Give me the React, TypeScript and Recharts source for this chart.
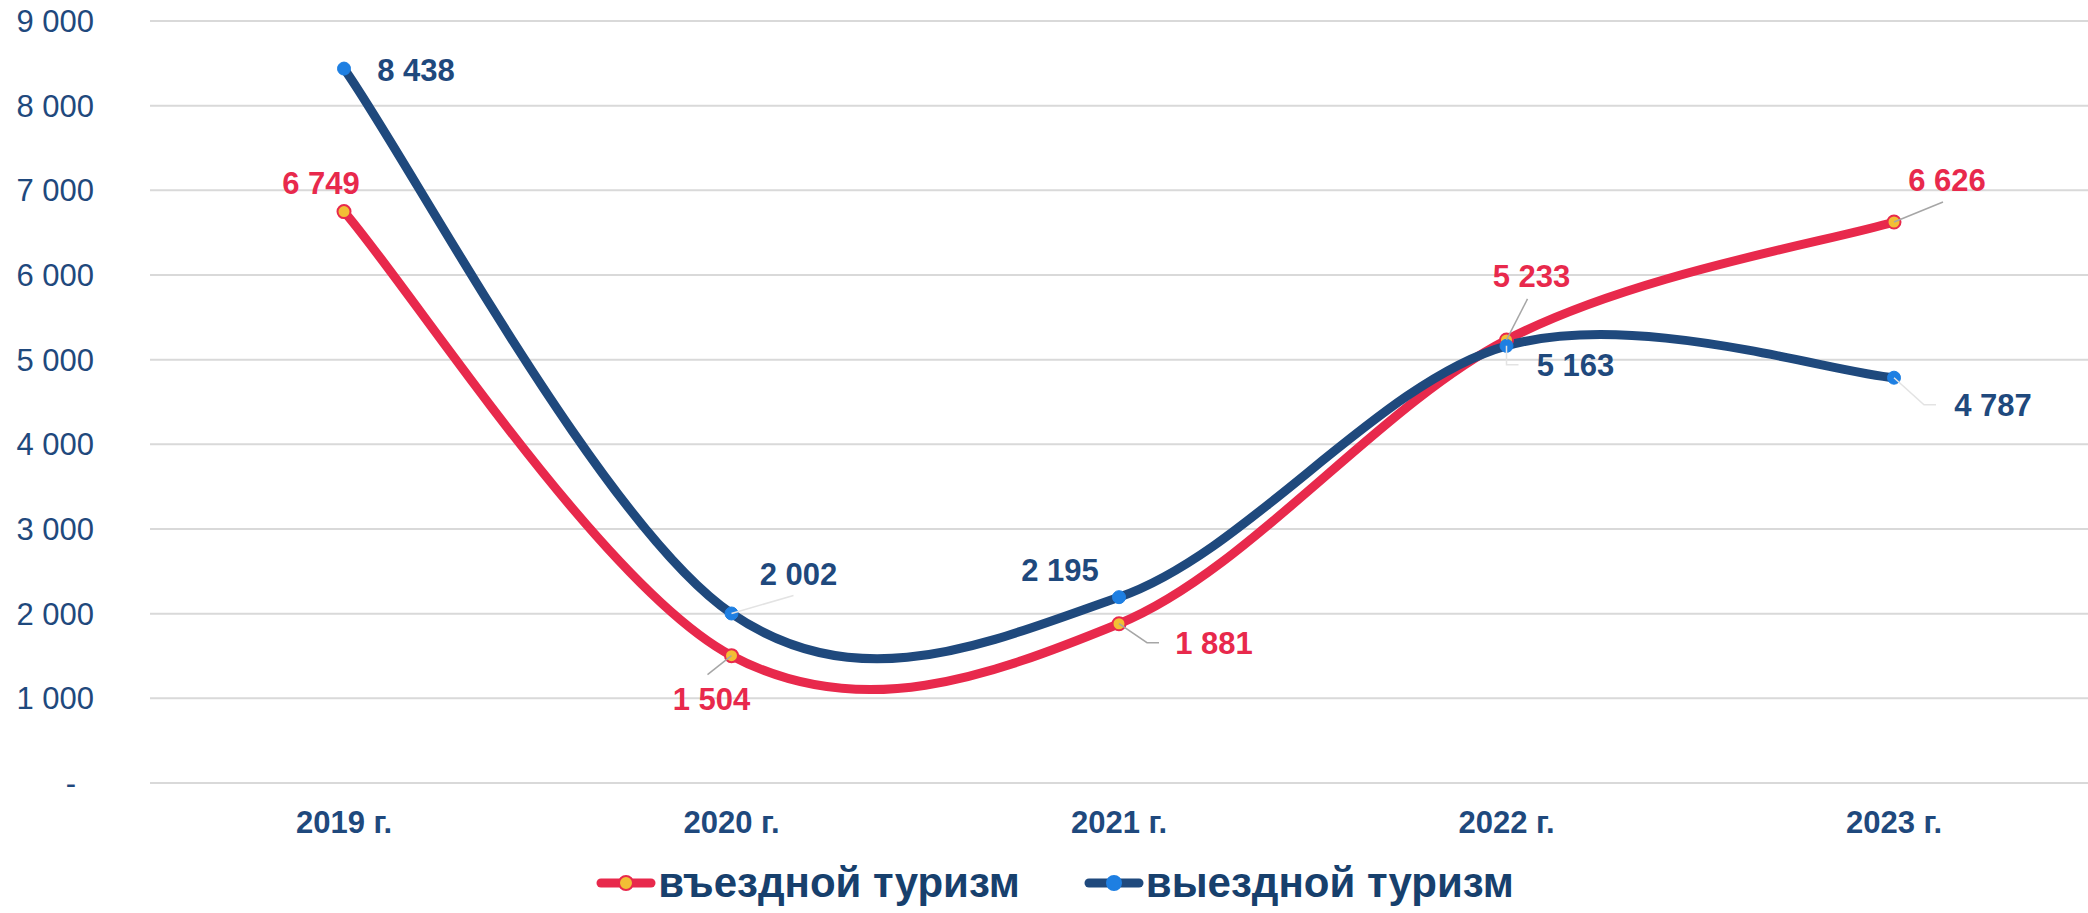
import React from 'react';
import { LineChart, Line, XAxis, YAxis, CartesianGrid, Legend, LabelList } from 'recharts';

const YEARS = ['2019 г.', '2020 г.', '2021 г.', '2022 г.', '2023 г.'];
const INBOUND = [6749, 1504, 1881, 5233, 6626];
const OUTBOUND = [8438, 2002, 2195, 5163, 4787];
const Y_TICKS = [0, 1000, 2000, 3000, 4000, 5000, 6000, 7000, 8000, 9000];

const chartData = YEARS.map((year, i) => ({ year, inbound: INBOUND[i], outbound: OUTBOUND[i] }));

const FONT = '"Liberation Sans", Arial, sans-serif';
const RED = '#E8294C';
const NAVY = '#1F497D';
const DOT_BLUE = '#1E7FE2';
const DOT_YELLOW = '#F2BE35';

// label centre offsets from the point, and leader line bends (relative to the point)
const inboundLabelPos: [number, number][] = [[-23, -29], [-20, 43], [95, 19], [25, -64], [53, -42]];
const inboundLeaders: ([number, number][] | null)[] = [null, [[-24, 19]], [[28, 19], [40, 19]], [[21, -41]], [[49, -20]]];
const outboundLabelPos: [number, number][] = [[72, 1], [67, -40], [-59, -27], [69, 19], [99, 27]];
const outboundLeaders: ([number, number][] | null)[] = [null, [[62, -18]], null, [[0, 19], [12, 19]], [[30, 27], [42, 27]]];

const fmt = (v: number) => String(v).replace(/\B(?=(\d{3})+(?!\d))/g, ' ');

// Excel-like smoothed line (Catmull-Rom through the points)
const smoothCurve = (context: any) => {
  let xs: number[] = [];
  let ys: number[] = [];
  return {
    areaStart() {},
    areaEnd() {},
    lineStart() {
      xs = [];
      ys = [];
    },
    lineEnd() {
      const n = xs.length;
      if (!n) return;
      context.moveTo(xs[0], ys[0]);
      for (let i = 0; i < n - 1; i++) {
        const x0 = xs[Math.max(i - 1, 0)], y0 = ys[Math.max(i - 1, 0)];
        const x3 = xs[Math.min(i + 2, n - 1)], y3 = ys[Math.min(i + 2, n - 1)];
        context.bezierCurveTo(
          xs[i] + (xs[i + 1] - x0) / 6,
          ys[i] + (ys[i + 1] - y0) / 6,
          xs[i + 1] - (x3 - xs[i]) / 6,
          ys[i + 1] - (y3 - ys[i]) / 6,
          xs[i + 1],
          ys[i + 1]
        );
      }
    },
    point(x: number, y: number) {
      xs.push(+x);
      ys.push(+y);
    },
  };
};

const makeLabel = (
  pos: [number, number][],
  leaders: ([number, number][] | null)[],
  color: string,
  leaderColor: string
) => (props: any) => {
  const { x, y, value, index } = props;
  const [dx, dy] = pos[index];
  const leader = leaders[index];
  return (
    <g key={`lbl-${index}`}>
      {leader && (
        <polyline
          points={[[0, 0], ...leader].map(([a, b]) => `${x + a},${y + b}`).join(' ')}
          fill="none"
          stroke={leaderColor}
          strokeWidth={1.5}
        />
      )}
      <text
        x={x + dx}
        y={y + dy}
        dy="0.36em"
        textAnchor="middle"
        fill={color}
        fontFamily={FONT}
        fontWeight="bold"
        fontSize={31}
      >
        {fmt(value)}
      </text>
    </g>
  );
};

const YTick = ({ x, y, payload }: any) => (
  <text
    x={payload.value === 0 ? x - 66 : x - 48}
    y={y}
    dy="0.36em"
    textAnchor="end"
    fill={NAVY}
    fontFamily={FONT}
    fontSize={31}
  >
    {payload.value === 0 ? '-' : fmt(payload.value)}
  </text>
);

const XTick = ({ x, y, payload }: any) => (
  <text x={x} y={y} dy={42} textAnchor="middle" fill={NAVY} fontFamily={FONT} fontWeight="bold" fontSize={31}>
    {payload.value}
  </text>
);

const legendItems = [
  { name: 'въездной туризм', line: RED, fill: DOT_YELLOW, stroke: RED },
  { name: 'выездной туризм', line: NAVY, fill: DOT_BLUE, stroke: DOT_BLUE },
];

const renderLegend = () => (
  <div
    style={{
      display: 'flex',
      justifyContent: 'center',
      alignItems: 'center',
      height: 60,
      paddingLeft: 22,
      fontFamily: FONT,
      fontWeight: 'bold',
      fontSize: 42,
      color: '#17406D',
    }}
  >
    {legendItems.map((item, i) => (
      <div key={item.name} style={{ display: 'flex', alignItems: 'center', marginLeft: i ? 64 : 0 }}>
        <svg width={60} height={20}>
          <line x1={5} y1={10} x2={55} y2={10} stroke={item.line} strokeWidth={9} strokeLinecap="round" />
          <circle cx={30} cy={10} r={7} fill={item.fill} stroke={item.stroke} strokeWidth={2} />
        </svg>
        <span style={{ marginLeft: 2 }}>{item.name}</span>
      </div>
    ))}
  </div>
);

export default function App() {
  return (
    <div style={{ position: 'absolute', left: 0, top: 0, background: '#fff' }}>
      <LineChart width={2088} height={913} data={chartData} margin={{ top: 21, right: 0, left: 0, bottom: 0 }}>
        <CartesianGrid vertical={false} stroke="#D9D9D9" strokeWidth={2} />
        <XAxis
          dataKey="year"
          axisLine={false}
          tickLine={false}
          height={70}
          padding={{ left: 194, right: 194 }}
          tick={<XTick />}
        />
        <YAxis
          domain={[0, 9000]}
          ticks={Y_TICKS}
          axisLine={false}
          tickLine={false}
          width={150}
          interval={0}
          tick={<YTick />}
        />
        <Legend verticalAlign="bottom" height={60} content={renderLegend} wrapperStyle={{ left: 0, width: 2088 }} />
        <Line
          dataKey="inbound"
          name="въездной туризм"
          type={smoothCurve as any}
          stroke={RED}
          strokeWidth={9}
          dot={{ r: 6.5, fill: DOT_YELLOW, stroke: RED, strokeWidth: 2 }}
          activeDot={false}
          isAnimationActive={false}
        >
          <LabelList dataKey="inbound" content={makeLabel(inboundLabelPos, inboundLeaders, RED, '#A6A6A6')} />
        </Line>
        <Line
          dataKey="outbound"
          name="выездной туризм"
          type={smoothCurve as any}
          stroke={NAVY}
          strokeWidth={9}
          dot={{ r: 6.5, fill: DOT_BLUE, stroke: DOT_BLUE, strokeWidth: 1 }}
          activeDot={false}
          isAnimationActive={false}
        >
          <LabelList dataKey="outbound" content={makeLabel(outboundLabelPos, outboundLeaders, NAVY, '#E3E3E3')} />
        </Line>
      </LineChart>
    </div>
  );
}
